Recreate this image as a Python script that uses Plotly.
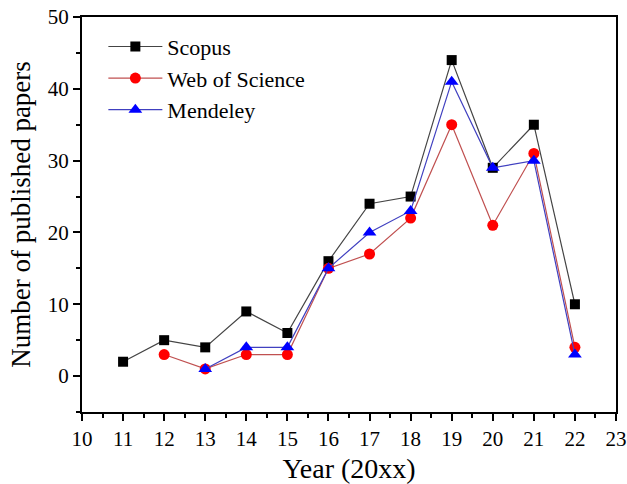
import plotly.graph_objects as go

years_scopus = [11, 12, 13, 14, 15, 16, 17, 18, 19, 20, 21, 22]
scopus = [2, 5, 4, 9, 6, 16, 24, 25, 44, 29, 35, 10]
years_wos = [12, 13, 14, 15, 16, 17, 18, 19, 20, 21, 22]
wos = [3, 1, 3, 3, 15, 17, 22, 35, 21, 31, 4]
years_mend = [13, 14, 15, 16, 17, 18, 19, 20, 21, 22]
mendeley = [1, 4, 4, 15, 20, 23, 41, 29, 30, 3]

FONT = "Liberation Serif, Times New Roman, serif"

fig = go.Figure()
fig.add_trace(go.Scatter(x=years_scopus, y=scopus, name="Scopus", mode="lines+markers",
                         line=dict(color="#444444", width=1.2),
                         marker=dict(symbol="square", size=10, color="black")))
fig.add_trace(go.Scatter(x=years_wos, y=wos, name="Web of Science", mode="lines+markers",
                         line=dict(color="#c05050", width=1.2),
                         marker=dict(symbol="circle", size=11, color="#ff0000")))
fig.add_trace(go.Scatter(x=years_mend, y=mendeley, name="Mendeley", mode="lines+markers",
                         line=dict(color="#4040c0", width=1.2),
                         marker=dict(symbol="triangle-up", size=12, color="#0000ff")))

fig.update_layout(
    width=627, height=484,
    margin=dict(l=82, r=11, t=17, b=72),
    paper_bgcolor="white", plot_bgcolor="white",
    font=dict(family=FONT, color="black", size=21),
    showlegend=True,
    legend=dict(x=0.04, y=0.978, xanchor="left", yanchor="top",
                bgcolor="rgba(0,0,0,0)", font=dict(family=FONT, size=22),
                tracegroupgap=0, itemwidth=54),
)
fig.update_xaxes(
    range=[10, 23], dtick=1, tick0=10, automargin=False, ticklabeloverflow="allow",
    showline=True, linecolor="black", linewidth=2, mirror=True,
    ticks="outside", ticklen=7, tickwidth=2, tickcolor="black",
    minor=dict(ticks="outside", ticklen=4, tickwidth=2, dtick=0.5, tickcolor="black"),
    showgrid=False, zeroline=False,
    tickfont=dict(family=FONT, size=21),
    title=dict(text="Year (20xx)", font=dict(family=FONT, size=28), standoff=16),
)
fig.update_yaxes(
    range=[-5, 50], dtick=10, tick0=0, automargin=False, ticklabeloverflow="allow",
    showline=True, linecolor="black", linewidth=2, mirror=True,
    ticks="outside", ticklen=7, tickwidth=2, tickcolor="black",
    minor=dict(ticks="outside", ticklen=4, tickwidth=2, dtick=5, tickcolor="black"),
    showgrid=False, zeroline=False,
    tickfont=dict(family=FONT, size=21),
    title=dict(text="Number of published papers", font=dict(family=FONT, size=27), standoff=9),
)

fig.write_html(
    "out.html",
    config={"displayModeBar": False},
    post_script="document.body.style.margin='0px';document.body.style.overflow='hidden';",
)
